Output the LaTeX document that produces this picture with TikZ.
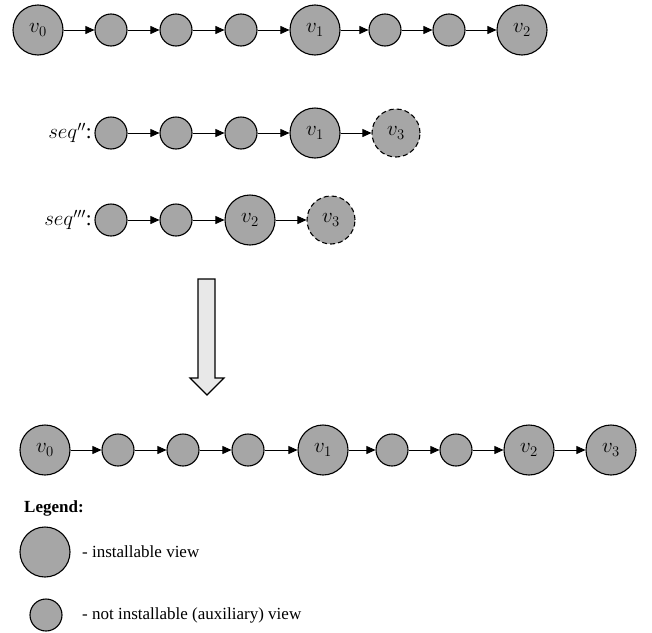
\RequirePackage{fix-cm}
\documentclass[tikz,border=0pt]{standalone}
\usepackage{fontspec}
\setmainfont{Liberation Serif}
\usepackage{tikz}
\usetikzlibrary{arrows.meta}
\definecolor{viewgray}{HTML}{A6A6A6}
\definecolor{arrowgray}{HTML}{E8E8E8}

\begin{document}
\begin{tikzpicture}[x=1pt,y=-1pt,
    view/.style={circle,draw,line width=1.1pt,fill=viewgray,inner sep=0pt,font=\fontsize{21}{24}\selectfont},
    bigview/.style={view,minimum size=50pt},
    auxview/.style={view,minimum size=32pt},
    newview/.style={view,dash pattern=on 5pt off 3pt,minimum size=48pt},
    link/.style={line width=0.7pt,-{Triangle[length=9pt,width=8pt]}},
    seqlabel/.style={anchor=east,inner sep=0pt,font=\fontsize{21}{24}\selectfont},
    txt/.style={anchor=west,inner sep=0pt,font=\fontsize{17}{20}\selectfont}]
    \useasboundingbox (0,0) rectangle (652,632);
    % first sequence
    \foreach \n/\x/\s/\l in {a0/38/bigview/$v_0$,a1/111/auxview/{},a2/176/auxview/{},a3/241/auxview/{},
        a4/315/bigview/$v_1$,a5/385/auxview/{},a6/449/auxview/{},a7/522/bigview/$v_2$}
    {
        \node[\s] (\n) at (\x,30) {\l};
    }
    \foreach \a/\b in {a0/a1,a1/a2,a2/a3,a3/a4,a4/a5,a5/a6,a6/a7}
        \draw[link] (\a) -- (\b);
    % seq''
    \node[seqlabel] (seqb) at (92,133) {$seq''$:};
    \foreach \n/\x/\s/\l in {b1/111/auxview/{},b2/176/auxview/{},b3/241/auxview/{},
        b4/315/bigview/$v_1$,b5/396/newview/$v_3$}
    {
        \node[\s] (\n) at (\x,133) {\l};
    }
    \foreach \a/\b in {b1/b2,b2/b3,b3/b4,b4/b5}
        \draw[link] (\a) -- (\b);
    % seq'''
    \node[seqlabel] (seqc) at (92,220) {$seq'''$:};
    \foreach \n/\x/\s/\l in {c1/111/auxview/{},c2/176/auxview/{},c3/250/bigview/$v_2$,c4/331/newview/$v_3$}
    {
        \node[\s] (\n) at (\x,220) {\l};
    }
    \foreach \a/\b in {c1/c2,c2/c3,c3/c4}
        \draw[link] (\a) -- (\b);
    % merge arrow
    \draw[line width=1.1pt,fill=arrowgray] (198,279) -- (215,279) -- (215,378) -- (224,378)
        -- (207,395) -- (190,378) -- (198,378) -- cycle;
    % result
    \foreach \n/\x/\s/\l in {d0/45/bigview/$v_0$,d1/118/auxview/{},d2/183/auxview/{},d3/248/auxview/{},
        d4/323/bigview/$v_1$,d5/392/auxview/{},d6/456/auxview/{},d7/529/bigview/$v_2$,d8/611/bigview/$v_3$}
    {
        \node[\s] (\n) at (\x,450) {\l};
    }
    \foreach \a/\b in {d0/d1,d1/d2,d2/d3,d3/d4,d4/d5,d5/d6,d6/d7,d7/d8}
        \draw[link] (\a) -- (\b);
    % legend
    \node[txt,font=\fontsize{17}{20}\selectfont\bfseries] (legend) at (24,508) {Legend:};
    \node[bigview] (lbig) at (45,552) {};
    \node[txt] (lbigtxt) at (82,552) {- installable view};
    \node[auxview] (lsmall) at (46,615) {};
    \node[txt] (lsmalltxt) at (82,615) {- not installable (auxiliary) view};
\end{tikzpicture}
\end{document}
